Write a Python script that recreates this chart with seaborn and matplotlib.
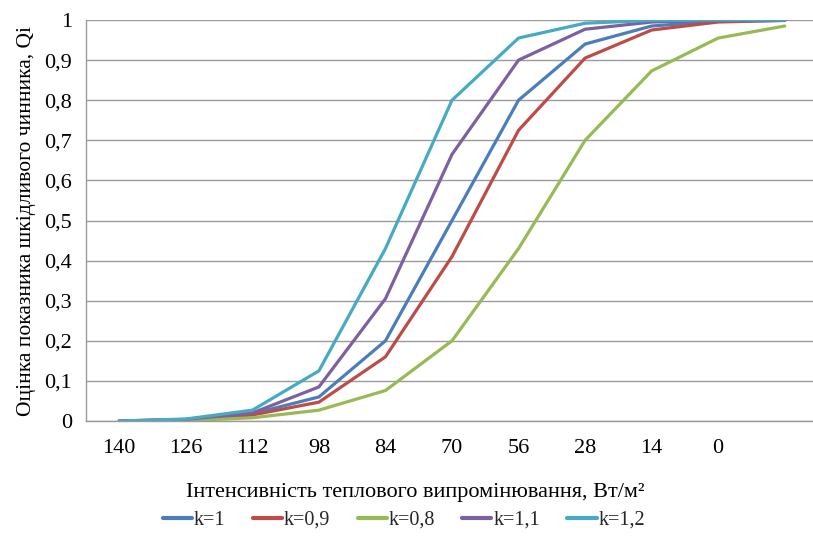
import matplotlib
matplotlib.use("Agg")
import matplotlib.pyplot as plt
import seaborn as sns
import pandas as pd
import numpy as np

categories = ["140", "126", "112", "98", "84", "70", "56", "28", "14", "0", ""]
series_names = ["k=1", "k=0,9", "k=0,8", "k=1,1", "k=1,2"]
k_1_0 = [0.0, 0.003, 0.018, 0.06, 0.20, 0.50, 0.80, 0.94, 0.985, 0.997, 0.999]
k_0_9 = [0.0, 0.003, 0.015, 0.047, 0.16, 0.41, 0.725, 0.905, 0.975, 0.995, 0.999]
k_0_8 = [0.0, 0.001, 0.008, 0.027, 0.076, 0.20, 0.43, 0.70, 0.873, 0.955, 0.985]
k_1_1 = [0.0, 0.004, 0.020, 0.085, 0.305, 0.665, 0.90, 0.977, 0.995, 0.999, 1.0]
k_1_2 = [0.0, 0.005, 0.027, 0.125, 0.43, 0.80, 0.955, 0.992, 0.999, 1.0, 1.0]
colors = ["#4A7EBB", "#BE4B48", "#98B954", "#7D60A0", "#46AAC5"]

values = [k_1_0, k_0_9, k_0_8, k_1_1, k_1_2]
rows = []
for name, vals in zip(series_names, values):
    for i, v in enumerate(vals):
        rows.append({"pos": i, "value": v, "series": name})
df = pd.DataFrame(rows)

sns.set_theme(style="white")
plt.rcParams["font.family"] = ["Liberation Serif", "DejaVu Serif"]
plt.rcParams["font.serif"] = ["Liberation Serif", "DejaVu Serif"]

fig = plt.figure(figsize=(8.13, 5.42), dpi=100)
ax = fig.add_axes([86/813, 121/542, (818-86)/813, (421-20)/542])

sns.lineplot(data=df, x="pos", y="value", hue="series", hue_order=series_names,
             palette=colors, linewidth=2.3, ax=ax, legend=True)

ax.set_xlim(-0.5, len(categories) - 0.5)
ax.set_ylim(0, 1)
ax.set_yticks(np.arange(0, 1.01, 0.1))
ax.set_yticklabels(["0"] + [f"{v:.1f}".replace(".", ",") for v in np.arange(0.1, 0.95, 0.1)] + ["1"],
                   fontsize=16, family=["Liberation Serif"])
ax.yaxis.grid(True, color="#9a9a9a", linewidth=1)
ax.set_axisbelow(True)

ax.set_xticks(np.arange(len(categories)))
ax.set_xticklabels(categories, fontsize=16, family=["Liberation Serif"])
ax.set_xticks(np.arange(-0.5, len(categories), 1), minor=True)
ax.tick_params(axis="x", which="major", length=0, pad=13, labelcolor="black")
ax.tick_params(axis="x", which="minor", length=5, color="#9a9a9a", width=1, direction="out")
ax.tick_params(axis="y", which="major", length=6, color="#9a9a9a", width=1, direction="out", pad=4, labelcolor="black")

for s in ["top", "right"]:
    ax.spines[s].set_visible(False)
for s in ["left", "bottom"]:
    ax.spines[s].set_color("#9a9a9a")
    ax.spines[s].set_linewidth(1)

ax.set_xlabel("Інтенсивність теплового випромінювання, Вт/м²", fontsize=16,
              family=["Liberation Serif"], color="black")
ax.xaxis.set_label_coords((415 - 86) / 732, (421 - 483) / 401)
ax.set_ylabel("Оцінка показника шкідливого чинника, Qi", fontsize=15.5, labelpad=6,
              family=["Liberation Serif"], color="black")

handles, labels = ax.get_legend_handles_labels()
ax.get_legend().remove()
leg = fig.legend(handles, labels, loc="center", bbox_to_anchor=(404/813, 1 - 520/542),
                 ncol=5, frameon=False, prop={"family": "Liberation Serif", "size": 14.5},
                 handlelength=1.45, columnspacing=1.35, handletextpad=0.1)
for h in leg.get_lines():
    h.set_linewidth(3)

fig.savefig("out.png", dpi=100)
